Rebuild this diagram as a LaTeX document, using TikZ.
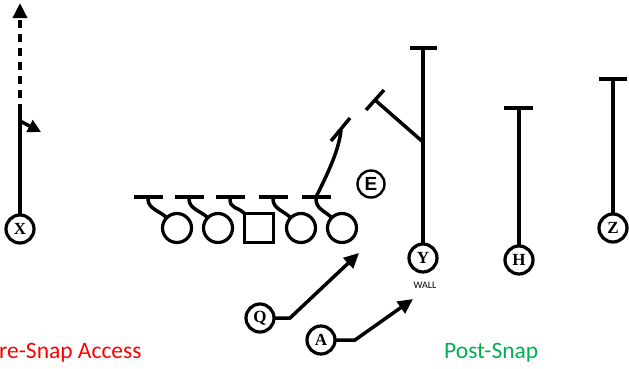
\documentclass[tikz,border=0pt]{standalone}
\usepackage{fontspec}
\setmainfont{Liberation Serif}
\newfontfamily\sansf{Liberation Sans}
\newfontfamily\calib{Carlito}
\usetikzlibrary{arrows.meta}
\definecolor{prered}{HTML}{FF0000}
\definecolor{postgreen}{HTML}{00B050}
\begin{document}
\begin{tikzpicture}[x=1pt,y=-1pt,
  route/.style={line width=3.5pt},
  player/.style={circle,draw,line width=3.2pt,minimum size=28pt,inner sep=0pt,outer sep=0pt,font=\bfseries\fontsize{17}{17}\selectfont},
  lineman/.style={circle,draw,line width=3.2pt,minimum size=29pt,inner sep=0pt,outer sep=0pt},
  center/.style={rectangle,draw,line width=3.2pt,minimum size=29pt,inner sep=0pt,outer sep=0pt},
  defender/.style={circle,draw,line width=2.4pt,minimum size=27pt,inner sep=0pt,outer sep=0pt,font=\sansf\bfseries\fontsize{19}{19}\selectfont},
  tip/.style={-{Triangle[length=15pt,width=14pt]}},
  smalltip/.style={-{Triangle[length=13pt,width=13pt]}},
  label/.style={font=\calib\fontsize{23.5}{23.5}\selectfont,anchor=base west,inner sep=0pt}
]
\useasboundingbox (0,0) rectangle (629,368);

% players
\node[player] (X) at (20,229) {X};
\node[player] (Y) at (423,258) {Y};
\node[player] (H) at (519,260) {H};
\node[player] (Z) at (613,228) {Z};
\node[player] (Q) at (260,318) {Q};
\node[player] (A) at (321,340) {A};
\node[defender] (E) at (371,184) {E};
\node[font=\calib\fontsize{10}{10}\selectfont] (wall) at (425,285) {WALL};

% offensive line
\node[lineman] (ol1) at (177,228) {};
\node[lineman] (ol2) at (218,228) {};
\node[center] (ol3) at (259,228) {};
\node[lineman] (ol4) at (301,228) {};
\node[lineman] (ol5) at (342,228) {};

\coordinate (b1) at (148,197);
\coordinate (b2) at (189,197);
\coordinate (b3) at (230,197);
\coordinate (b4) at (273,197);
\coordinate (b5) at (316,197);

\foreach \b in {b1,b2,b3,b4,b5}{
  \draw[route] ([xshift=-14.5pt]\b) -- ([xshift=14.5pt]\b);
}
\draw[route] (b1) -- ++(0,2) .. controls +(0,10) and +(-7,-7) .. (ol1.135);
\draw[route] (b2) -- ++(0,2) .. controls +(0,10) and +(-7,-7) .. (ol2.135);
\draw[route] (b3) -- ++(0,2) .. controls +(0,10) and +(-7,-7) .. (ol3.north west);
\draw[route] (b4) -- ++(0,2) .. controls +(0,10) and +(-7,-7) .. (ol4.135);
\draw[route] (b5) -- ++(0,2) .. controls +(0,10) and +(-7,-7) .. (ol5.135);

% tackle stunt
\coordinate (s5) at (341,130);
\draw[route] (b5) .. controls (328,173) and (339,150) .. (s5);
\draw[route] (331,141) -- (350,118);

% X route
\coordinate (xm) at (20,112);
\coordinate (xt) at (20,3);
\coordinate (xb) at (20,121);
\coordinate (xs) at (41,132);
\draw[route] (X) -- (xm);
\draw[route,dash pattern=on 8pt off 6pt,tip] (xm) -- (xt);
\draw[route,smalltip] (xb) -- (xs);

% Y route
\coordinate (yt) at (423,48);
\coordinate (yb) at (423,142);
\coordinate (ye) at (375,100);
\draw[route] (Y) -- (yt);
\draw[route] ([xshift=-13.5pt]yt) -- ([xshift=13.5pt]yt);
\draw[route] (yb) -- (ye);
\draw[route] (366,110) -- (384,90);

% H route
\coordinate (ht) at (518,108);
\draw[route] (H) -- (H|-ht);
\draw[route] ([xshift=-14.5pt]ht) -- ([xshift=14.5pt]ht);

% Z route
\coordinate (zt) at (613,79);
\draw[route] (Z) -- (zt);
\draw[route] ([xshift=-14pt]zt) -- ([xshift=14pt]zt);

% Q and A routes
\coordinate (qm) at (290,318);
\coordinate (qt) at (359,253);
\draw[route,tip] (Q) -- (qm) -- (qt);
\coordinate (am) at (355,340);
\coordinate (at) at (413,299);
\draw[route,tip] (A) -- (am) -- (at);

% labels
\node[label,text=prered] (pre) at (-1,358) {re-Snap Access};
\node[label,text=postgreen] (post) at (444,358) {Post-Snap};
\end{tikzpicture}
\end{document}
